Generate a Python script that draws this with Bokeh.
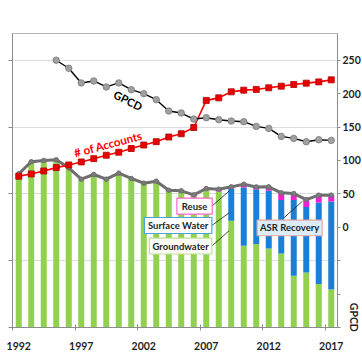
import math
from bokeh.plotting import figure
from bokeh.models import Range1d, LinearAxis, FixedTicker, ColumnDataSource
from bokeh.embed import file_html
from bokeh.resources import INLINE
from bokeh.core.properties import value

# ---------------- data ----------------
years = list(range(1992, 2018))
groundwater = [23000, 24800, 25000, 25100, 23900, 22200, 22900, 22200, 23100, 22300,
               21600, 21700, 20350, 20200, 19600, 20500, 20350, 15970, 12240, 12490,
               11840, 11090, 7760, 8250, 6520, 5670]
surface_water = [0, 0, 0, 0, 0, 0, 0, 0, 0, 0,
                 0, 0, 0, 0, 0, 0, 0, 4780, 8700, 8150,
                 8610, 8010, 11340, 9800, 12180, 13180]
reuse = [0, 0, 0, 0, 0, 0, 0, 0, 0, 0,
         0, 200, 200, 250, 250, 300, 350, 300, 500, 400,
         600, 1050, 940, 1090, 1100, 960]
accounts = [22640, 22990, 23430, 23930, 24330, 24780, 25270, 25780, 26230, 26790,
            27310, 27810, 28510, 29000, 29930, 33990, 34370, 35270, 35520, 35630,
            35870, 36120, 36370, 36570, 36760, 37060]
nan = float("nan")
gpcd = [nan, nan, nan, 250, 238, 216, 219, 210, 216, 206,
        200, 191, 174, 171, 162, 164, 161, 159, 158, 151,
        148, 136, 133, 128, 131, 130]
x_label_years = [1992, 1997, 2002, 2007, 2012, 2017]
left_ticks = [0, 10000, 20000, 30000, 40000]
right_ticks = [-150, -100, -50, 0, 50, 100, 150, 200, 250]

idx = list(range(len(years)))
total = [g + s + r for g, s, r in zip(groundwater, surface_water, reuse)]

src = ColumnDataSource(dict(x=idx, g=groundwater, s=surface_water, r=reuse,
                            total=total, acc=accounts, gpcd=gpcd))

FONT = value("Lato")
TXT = "#1f1f1f"
AXC = "#8c8c8c"
GREEN, BLUE, MAGENTA = "#92d050", "#1a7fd9", "#f020cc"

p = figure(width=362, height=362, output_backend="svg", toolbar_location=None,
           x_range=Range1d(-0.5, len(years) - 0.5), y_range=Range1d(0, 44000),
           min_border_left=12, min_border_right=0, min_border_top=33, min_border_bottom=35)
p.background_fill_color = "white"
p.border_fill_color = "white"
p.outline_line_color = "#b4b4b4"
p.outline_line_width = 1

# x axis: labels on categories, tick marks between categories
xa = p.xaxis[0]
major = [years.index(y) for y in x_label_years]
xa.ticker = FixedTicker(ticks=major, minor_ticks=[m - 0.5 for m in major])
xa.major_label_overrides = {m: str(years[m]) for m in major}
xa.major_tick_line_color = None
xa.minor_tick_in = 3
xa.minor_tick_out = 3
xa.minor_tick_line_color = AXC
xa.axis_line_color = AXC
xa.major_label_standoff = 8
xa.major_label_text_font = "Lato"
xa.major_label_text_font_style = "bold"
xa.major_label_text_font_size = "10.5px"
xa.major_label_text_color = TXT

# left axis (its labels lie outside the visible crop)
ya = p.yaxis[0]
ya.ticker = FixedTicker(ticks=left_ticks)
ya.major_label_overrides = {t: "" for t in left_ticks}
ya.major_label_standoff = 0
ya.major_tick_in = 0
ya.major_tick_out = 4
ya.minor_tick_line_color = None
ya.major_tick_line_color = AXC
ya.axis_line_color = AXC

p.xgrid.grid_line_color = None
p.ygrid.ticker = FixedTicker(ticks=left_ticks[1:])
p.ygrid.grid_line_color = "#dcdce4"

# right axis (GPCD)
p.extra_y_ranges = {"right": Range1d(-150, 290)}
ra = LinearAxis(y_range_name="right", ticker=FixedTicker(ticks=right_ticks))
ra.major_label_overrides = {t: "" for t in right_ticks if t < 0}
ra.major_label_standoff = 2
ra.major_tick_in = 0
ra.major_tick_out = 3
ra.minor_tick_line_color = None
ra.major_tick_line_color = AXC
ra.axis_line_color = AXC
ra.major_label_text_font = "Lato"
ra.major_label_text_font_style = "bold"
ra.major_label_text_font_size = "10.5px"
ra.major_label_text_color = TXT
if hasattr(ra, "axis_label_align"):
    ra.axis_label = "GPCD" + "\u00a0" * 8
    ra.axis_label_align = "start"
    ra.axis_label_standoff = -16
    ra.axis_label_text_font = "Lato"
    ra.axis_label_text_font_style = "bold"
    ra.axis_label_text_font_size = "10.5px"
    ra.axis_label_text_color = TXT
p.add_layout(ra, "right")

# stacked bars
p.vbar_stack(["g", "s", "r"], x="x", width=0.48, source=src,
             fill_color=[GREEN, BLUE, MAGENTA], line_color=None)

# total line
p.line("x", "total", source=src, line_color="#6e6e6e", line_width=3)
p.scatter("x", "total", source=src, size=4.5, fill_color="#7c7c7c", line_color="#6e6e6e")

# accounts
p.line("x", "acc", source=src, line_color="#ff0000", line_width=1.6)
p.scatter("x", "acc", source=src, marker="square", size=6,
          fill_color="#e80000", line_color="#b00000", line_width=0.8)

# GPCD
p.line("x", "gpcd", source=src, y_range_name="right", line_color="#000000", line_width=1.4)
p.scatter("x", "gpcd", source=src, y_range_name="right", size=6.5,
          fill_color="#a0a0a0", line_color="#7a7a7a", line_width=0.8)

# series labels
p.text(x=[8.75], y=[34000], text=["GPCD"], angle=-0.47, text_font=FONT,
       text_font_style="bold", text_font_size="11px", text_color="#000000",
       text_align="center", text_baseline="middle")
p.text(x=[7.15], y=[27450], text=["# of Accounts"], angle=0.26, text_font=FONT,
       text_font_style="bold", text_font_size="11.5px", text_color="#ff0000",
       text_align="center", text_baseline="middle")

# callouts
boxes = [
    ("Reuse", 12.65, 15.48, 19360, 16970, "#ffffff", "#ff66cc"),
    ("Surface Water", 10.05, 15.45, 16460, 14070, "#ffffff", "#4da3e0"),
    ("Groundwater", 10.45, 15.45, 13390, 11000, "#fbfdf6", "#bfe09a"),
    ("ASR Recovery", 19.07, 24.27, 16070, 13730, "#dcecf9", "#e8a6a6"),
]
leaders = [
    (15.48, 18200, 16.84, 20450),
    (15.45, 15270, 16.84, 17170),
    (15.45, 12200, 16.84, 14500),
    (21.2, 16400, 22.7, 18900),
]
for (x0, y0, x1, y1) in leaders:
    p.line([x0, x1], [y0, y1], line_color="#1a1a1a", line_width=0.8)
for (t, l, r, top, bot, fc, lc) in boxes:
    p.quad(left=[l], right=[r], top=[top], bottom=[bot], fill_color=fc, line_color=lc, line_width=1.2)
    p.text(x=[(l + r) / 2], y=[(top + bot) / 2], text=[t], text_font=FONT,
           text_font_style="bold", text_font_size="9.5px", text_color=TXT,
           text_align="center", text_baseline="middle")

open("out.html", "w").write(file_html(p, INLINE))
